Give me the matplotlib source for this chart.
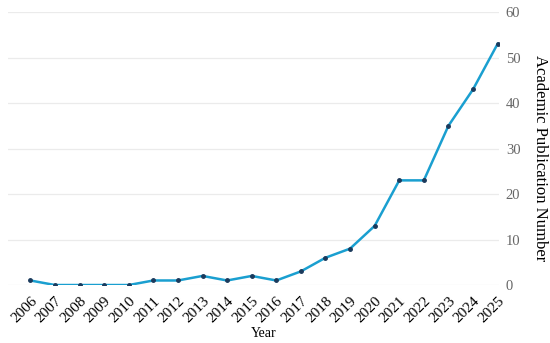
import matplotlib
matplotlib.use("Agg")
import matplotlib.pyplot as plt

years = list(range(2006, 2026))
counts = [1, 0, 0, 0, 0, 1, 1, 2, 1, 2, 1, 3, 6, 8, 13, 23, 23, 35, 43, 53]

plt.rcParams['font.family'] = ['Liberation Serif', 'DejaVu Serif']

fig = plt.figure(figsize=(5.5, 3.43), dpi=100)
ax = fig.add_axes([0.015, 0.169, 0.892, 0.796])

ax.plot(years, counts, color='#1a9fd0', lw=1.8, zorder=3)
ax.plot(years, counts, 'o', color='#1b3a5c', ms=2.5, zorder=4)

ax.set_xlim(2005.1, 2025.05)
ax.set_ylim(0, 60)
ax.set_xticks(years)
ax.set_xticklabels([str(y) for y in years], rotation=45, ha='right',
                   rotation_mode='anchor', fontsize=11)
ax.set_yticks(range(0, 61, 10))
ax.yaxis.tick_right()
ax.yaxis.set_label_position('right')
ax.tick_params(axis='y', colors='#666666', labelsize=10.5, length=0, pad=5)
ax.tick_params(axis='x', length=0, pad=7)
ax.grid(axis='y', color='#ebebeb', lw=0.9)
ax.set_axisbelow(True)
for s in ax.spines.values():
    s.set_visible(False)

ax.set_ylabel('Academic Publication Number', rotation=270, fontsize=12,
              va='center', ha='center')
ax.yaxis.set_label_coords(1.083, 0.465)
ax.set_xlabel('Year', fontsize=10)
ax.xaxis.set_label_coords(0.521, -0.176)
ax.xaxis.label.set_va('center')

fig.savefig('out.png', dpi=100)
